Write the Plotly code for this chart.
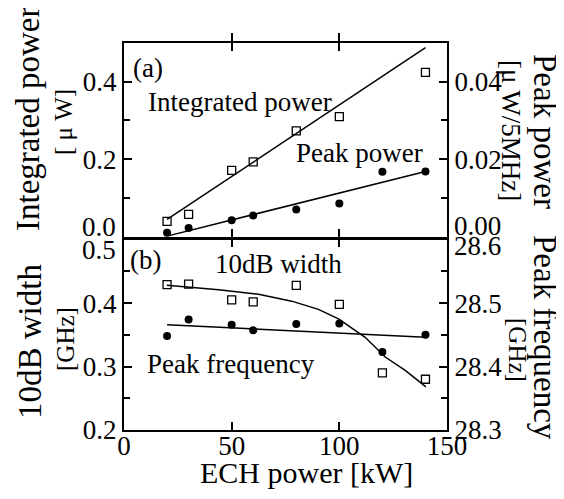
import plotly.graph_objects as go

# ---- data ----
ech_power = [20, 30, 50, 60, 80, 100, 120, 140]          # kW
integrated_power = [0.039, 0.057, 0.171, 0.193, 0.273, 0.310, 0.505, 0.424]   # uW
peak_power = [0.0010, 0.0022, 0.0042, 0.0054, 0.0070, 0.0085, 0.0167, 0.0168]  # uW/5MHz
width_10db = [0.429, 0.430, 0.405, 0.402, 0.428, 0.398, 0.290, 0.280]         # GHz
peak_freq = [28.448, 28.474, 28.466, 28.457, 28.467, 28.468, 28.423, 28.450]  # GHz

int_fit_x = [20, 140]
int_fit_y = [0.044, 0.488]
peak_fit_x = [20, 140]
peak_fit_y = [0.0001, 0.0168]
freq_fit_x = [20, 140]
freq_fit_y = [28.466, 28.446]
width_curve_x = [19.9, 43.9, 62.5, 77.9, 90.3, 99.6, 112.0, 121.3, 130.6, 140.2]
width_curve_y = [0.428, 0.421, 0.414, 0.403, 0.390, 0.375, 0.346, 0.315, 0.294, 0.268]

x_ticks = [0, 50, 100, 150]
top_left_ticks = [0.2, 0.4]
top_right_ticks = [0.02, 0.04]
bot_left_ticks = [0.2, 0.3, 0.4]
bot_right_ticks = [28.3, 28.4, 28.5]

FONT = "Liberation Serif"
BLACK = "black"

fig = go.Figure()

sq = dict(symbol="square-open", size=8, color=BLACK, line=dict(width=1.3, color=BLACK))
dot = dict(symbol="circle", size=8, color=BLACK)
ln = dict(color=BLACK, width=1.5)

fig.add_trace(go.Scatter(x=int_fit_x, y=int_fit_y, mode="lines", line=ln, xaxis="x", yaxis="y"))
fig.add_trace(go.Scatter(x=ech_power, y=integrated_power, mode="markers", marker=sq,
                         xaxis="x", yaxis="y", cliponaxis=False))
fig.add_trace(go.Scatter(x=peak_fit_x, y=peak_fit_y, mode="lines", line=ln, xaxis="x", yaxis="y2"))
fig.add_trace(go.Scatter(x=ech_power, y=peak_power, mode="markers", marker=dot,
                         xaxis="x", yaxis="y2", cliponaxis=False))

fig.add_trace(go.Scatter(x=width_curve_x, y=width_curve_y, mode="lines", line=ln, xaxis="x2", yaxis="y3"))
fig.add_trace(go.Scatter(x=ech_power, y=width_10db, mode="markers", marker=sq,
                         xaxis="x2", yaxis="y3", cliponaxis=False))
fig.add_trace(go.Scatter(x=freq_fit_x, y=freq_fit_y, mode="lines", line=ln, xaxis="x2", yaxis="y4"))
fig.add_trace(go.Scatter(x=ech_power, y=peak_freq, mode="markers", marker=dot,
                         xaxis="x2", yaxis="y4", cliponaxis=False))

tickfont = dict(family=FONT, size=27, color=BLACK)
common = dict(showline=True, linecolor=BLACK, linewidth=2, showgrid=False, zeroline=False,
              ticks="inside", ticklen=8, tickwidth=1.5, tickcolor=BLACK, tickfont=tickfont)

# the page body has an 8px margin, so the figure is drawn 8px smaller and the
# left/top margins are reduced by 8px to keep the plot area where the reference has it
fig.update_layout(
    width=556, height=491,
    margin=dict(l=116, r=117, t=35, b=69),
    paper_bgcolor="white", plot_bgcolor="white",
    showlegend=False,
    font=dict(family=FONT, color=BLACK),
    xaxis=dict(domain=[0, 1], anchor="y", range=[0, 150], tickmode="array", tickvals=[50, 100],
               showticklabels=False, mirror="allticks", **common),
    xaxis2=dict(domain=[0, 1], anchor="y3", range=[0, 150], tickmode="array", tickvals=x_ticks,
                ticktext=[str(v) for v in x_ticks], mirror=True, ticklabelstandoff=-9, **common),
    yaxis=dict(domain=[0.5, 1], anchor="x", range=[0, 0.5], tickmode="array",
               tickvals=top_left_ticks, ticktext=[f"{v:.1f}" for v in top_left_ticks],
               minor=dict(tickmode="array", tickvals=[0.1, 0.3], ticks="inside", ticklen=6,
                          tickwidth=1.5, tickcolor=BLACK),
               mirror=True, **common),
    yaxis2=dict(overlaying="y", side="right", anchor="x", range=[0, 0.05], tickmode="array",
                tickvals=top_right_ticks, ticktext=[f"{v:.2f}" for v in top_right_ticks],
                minor=dict(tickmode="array", tickvals=[0.01, 0.03], ticks="inside", ticklen=6,
                           tickwidth=1.5, tickcolor=BLACK),
                **common),
    yaxis3=dict(domain=[0, 0.492], anchor="x2", range=[0.2, 0.5], tickmode="array",
                tickvals=bot_left_ticks, ticktext=[f"{v:.1f}" for v in bot_left_ticks],
                minor=dict(tickmode="array", tickvals=[0.25, 0.35, 0.45], ticks="inside", ticklen=6,
                           tickwidth=1.5, tickcolor=BLACK),
                mirror=True, **common),
    yaxis4=dict(overlaying="y3", side="right", anchor="x2", range=[28.3, 28.6], tickmode="array",
                tickvals=bot_right_ticks, ticktext=[f"{v:.1f}" for v in bot_right_ticks],
                minor=dict(tickmode="array", tickvals=[28.35, 28.45, 28.55], ticks="inside", ticklen=6,
                           tickwidth=1.5, tickcolor=BLACK),
                **common),
)

def px_x(px):
    return (px - 124) / 323.0

def px_y(py):
    return (430 - py) / 387.0

ann = []
def add(text, px, py, size, angle=0, xanchor="center"):
    ann.append(dict(text=text, x=px_x(px), y=px_y(py), xref="paper", yref="paper",
                    showarrow=False, textangle=angle, xanchor=xanchor, yanchor="middle",
                    font=dict(family=FONT, size=size, color=BLACK)))

# axis titles
add("Integrated power", 28, 119, 33, -90)
add("[ \u03bc W]", 63, 122, 25, -90)
add("10dB width", 30, 342, 33, -90)
add("[GHz]", 65, 339, 25, -90)
add("Peak power", 545, 131, 33, 90)
add("[\u03bc W/5MHz]", 511, 130, 27, 90)
add("Peak frequency", 545, 337, 33, 90)
add("[GHz]", 518, 350, 25, 90)
add("ECH power [kW]", 306, 472, 30)

# in-plot labels
add("(a)", 148, 68, 27)
add("(b)", 145, 260, 27)
add("Integrated power", 240, 102, 27)
add("Peak power", 359, 153, 27)
add("10dB width", 278, 264, 27)
add("Peak frequency", 231, 364, 27)

# tick labels at the seam between panels
add("0.0", 118, 227, 27, 0, "right")
add("0.00", 452, 226, 27, 0, "left")
add("0.5", 118, 250, 27, 0, "right")
add("28.6", 452, 246, 27, 0, "left")

fig.update_layout(annotations=ann)

fig.write_html("out.html")
